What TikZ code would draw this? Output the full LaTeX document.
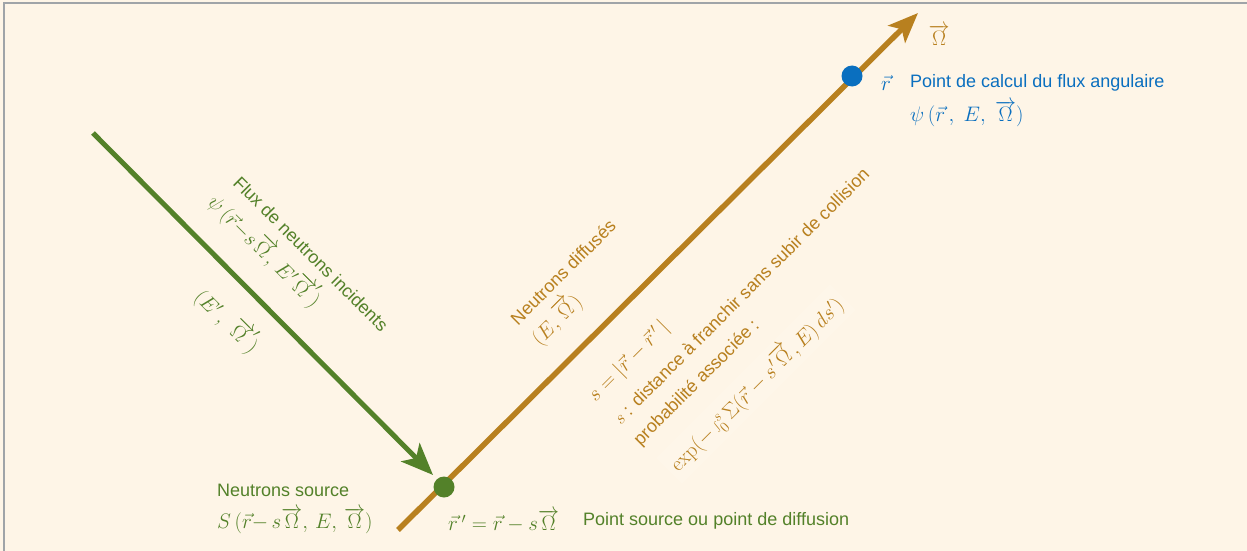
\documentclass[tikz,border=0pt]{standalone}
\usepackage{fontspec}
\usepackage{fix-cm}
\setsansfont{Liberation Sans}
\usetikzlibrary{arrows.meta}
\definecolor{bgc}{HTML}{FEF5E7}
\definecolor{orc}{HTML}{B8801F}
\definecolor{grc}{HTML}{538129}
\definecolor{blc}{HTML}{0A6FBF}
\definecolor{frc}{HTML}{A0A4A8}
\newcommand{\vO}{\overrightarrow{\Omega}}
\begin{document}
\begin{tikzpicture}[x=1pt,y=-1pt,
  sflab/.style={font=\sffamily\fontsize{18}{20}\selectfont, inner sep=0pt},
  mlab/.style={font=\fontsize{21}{23}\selectfont, inner sep=0pt},
  dotn/.style={circle, inner sep=0pt, minimum size=21pt}]
\fill[bgc] (0,0) rectangle (1247,551);
\useasboundingbox (0,0) rectangle (1247,551);
\draw[frc, line width=2pt] (4,551) -- (4,3) -- (1247,3);
% coordinates
\coordinate (o0) at (398,530);
\coordinate (otip) at (918,13);
\coordinate (g0) at (93,133);
\coordinate (gtip) at (433,475);
% lines
\draw[orc, line width=5.5pt, -{Stealth[length=30pt,width=24pt,inset=7pt]}] (o0) -- (otip);
\draw[grc, line width=5pt, -{Stealth[length=32pt,width=26pt,inset=8pt]}] (g0) -- (gtip);
\node[dotn, fill=grc] (gdot) at (444,487) {};
\node[dotn, fill=blc] (bdot) at (852,76) {};
% top right
\node[mlab, text=orc] (om) at (939,35) {$\vO$};
\node[mlab, text=blc] (rv) at (886,83) {$\vec{r}$};
\node[sflab, text=blc, anchor=west] (pc) at (910,83) {Point de calcul du flux angulaire};
\node[mlab, text=blc, anchor=west] (psi) at (910,114) {$\psi\,(\vec{r}\,,\;E,\;\vO)$};
% green rotated
\node[sflab, text=grc, rotate=-45] (flux) at (311,254) {Flux de neutrons incidents};
\node[mlab, text=grc, rotate=-45] (psig) at (266,250) {$\psi\,(\vec{r}{-}s\vO,\,E'\vO')$};
\node[mlab, text=grc, rotate=-45] (ep) at (228,320) {$(E'\,,\;\vO')$};
% orange rotated
\node[sflab, text=orc, rotate=45] (nd) at (563,272) {Neutrons diffusés};
\node[mlab, text=orc, rotate=45] (eo) at (556,319) {$(E,\vO)$};
\node[mlab, text=orc, rotate=45] (sdef) at (629,362) {$s={\mid}\vec{r}-\vec{r}\,'\,|$};
\node[sflab, text=orc, rotate=45] (sdist) at (741,296) {$s$ : distance à franchir sans subir de collision};
\node[sflab, text=orc, rotate=45] (prob) at (697,383) {probabilité associée :};
\node[mlab, text=orc, rotate=45, fill=white, fill opacity=0.12, text opacity=1, inner sep=5pt] (expn) at (756,384) {$\exp(-\int_0^s\Sigma\big(\vec{r}-s'\vO,E\big)\,ds')$};
% bottom
\node[sflab, text=grc, anchor=west] (ns) at (217,490) {Neutrons source};
\node[mlab, text=grc, anchor=west] (sfun) at (217,521) {$S\,(\vec{r}{-}\,s\vO,\,E,\,\vO)$};
\node[mlab, text=grc, anchor=west] (rp) at (448,521) {$\vec{r}\,'=\vec{r}-s\vO$};
\node[sflab, text=grc, anchor=west] (ps) at (583,521) {Point source ou point de diffusion};
\end{tikzpicture}
\end{document}
